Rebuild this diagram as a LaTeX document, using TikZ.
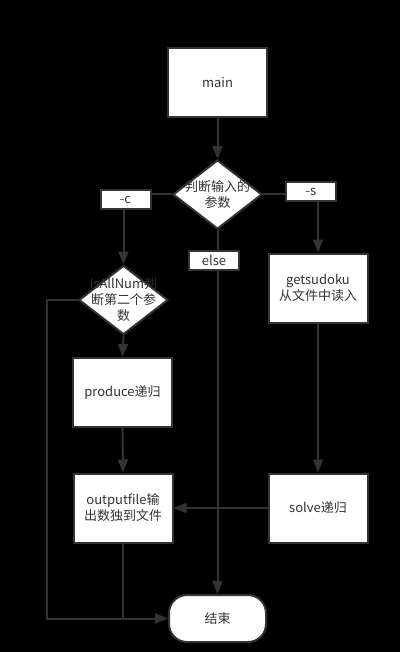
\documentclass[tikz,border=0pt]{standalone}
\usepackage{fontspec}
\setmainfont{Noto Sans CJK SC}
\usetikzlibrary{shapes.geometric,arrows.meta}
\definecolor{linegray}{HTML}{333333}
\tikzset{
    box/.style={draw=linegray, line width=2pt, fill=white, text=linegray,
        minimum width=99pt, minimum height=69pt, align=center, inner sep=0pt},
    tag/.style={draw=linegray, line width=2pt, fill=white, text=linegray,
        minimum width=50pt, minimum height=19pt, inner sep=0pt},
    decide/.style={diamond, draw=linegray, line width=2pt, fill=white,
        minimum width=89pt, minimum height=69pt, inner sep=0pt},
    dtext/.style={text=linegray, align=center, inner sep=0pt},
    flow/.style={draw=linegray, line width=2pt, -{Triangle[length=13pt,width=10pt]}},
    link/.style={draw=linegray, line width=2pt},
}
\begin{document}
\begin{tikzpicture}[x=1pt, y=-1pt, font=\fontsize{13}{16}\selectfont]
    \fill[black] (0,0) rectangle (400,652);
    % boxes
    \node[box] (main) at (217.5,82.5) {main};
    \node[decide] (dec) at (217.5,194.5) {};
    \node[dtext] (dect) at (dec) {判断输入的\\参数};
    \node[decide] (dec2) at (123.5,300) {};
    \node[dtext] (dec2t) at (dec2) {isAllNum判\\断第二个参\\数};
    \node[box] (prod) at (122.5,392.5) {produce递归};
    \node[box] (out) at (123,508) {outputfile输\\出数独到文件};
    \node[box] (get) at (318,288) {getsudoku\\从文件中读入};
    \node[box] (solve) at (318,508) {solve递归};
    \node[box, minimum width=97pt, minimum height=47pt, rounded corners=18pt] (end) at (217.5,618.5) {结束};
    % lines
    \draw[flow] (main.south) -- (dec.north);
    \draw[flow] (dec.south) -- (end.north);
    \draw[flow] (dec2.south) -- (prod.north);
    \draw[flow] (prod.south) -- (out.north);
    \draw[flow] (get.south) -- (solve.north);
    \draw[flow] (solve.west) -- (out.east);
    \draw[flow] (dec2.west) -- ++(-31,0) |- (end.west);
    \draw[link] (out.south) -- (out.south |- end.west);
    % labels on the branches
    \node[tag] (optc) at (125.5,199.5) {-c};
    \node[tag] (opts) at (311,191.5) {-s};
    \node[tag] (optelse) at (214,260) {else};
    \draw[link] (dec.west) -- (dec.west -| optc.east);
    \draw[link] (dec.east) -- (dec.east -| opts.west);
    \draw[flow] (optc.south -| dec2.north) -- (dec2.north);
    \draw[flow] (opts.south -| get.north) -- (get.north);
\end{tikzpicture}
\end{document}
